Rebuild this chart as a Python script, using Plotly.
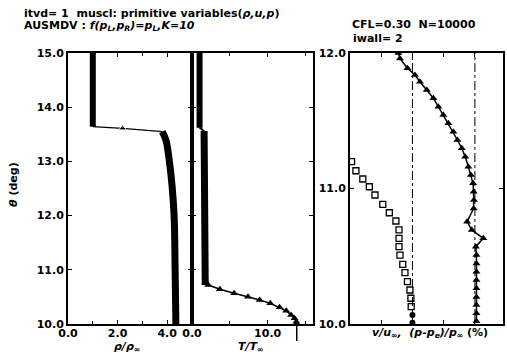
import plotly.graph_objects as go

# ---------------- data ----------------
# panel 1 : density rho/rho_inf vs theta (deg)
theta_rho_up = [15.0, 13.64]
rho_up = [1.0, 1.0]
theta_rho_shock = [13.64, 13.61, 13.55]
rho_shock = [1.0, 2.2, 3.8]
theta_rho_dn = [13.55, 13.39, 13.03, 12.53, 11.98, 11.0, 10.0]
rho_dn = [3.8, 3.95, 4.08, 4.2, 4.28, 4.32, 4.35]

# panel 2 : temperature T/T_inf vs theta (deg)
theta_T_up = [15.0, 13.62]
T_up = [1.0, 1.0]
theta_T_step = [13.62, 13.56]
T_step = [1.0, 1.6]
theta_T_mid = [13.56, 12.5, 11.5, 10.72]
T_mid = [1.6, 1.65, 1.7, 1.75]
theta_T_bl = [10.72, 10.64, 10.566, 10.504, 10.443, 10.381, 10.307, 10.245,
              10.166, 10.105, 10.04, 10.0]
T_bl = [2.15, 3.68, 5.57, 7.41, 8.95, 10.35, 11.58, 12.46, 13.1, 13.55, 13.8, 13.85]
T_wall = 13.85

# panel 3 : v/u_inf (squares) and pressure error (triangles), arbitrary x units
theta_v = [11.198, 11.131, 11.07, 11.013, 10.952, 10.883, 10.821, 10.760, 10.694,
           10.632, 10.571, 10.509, 10.44, 10.379, 10.313, 10.251, 10.19, 10.128]
v_vals = [0.05, 0.19, 0.41, 0.62, 0.80, 1.05, 1.26, 1.47, 1.57,
          1.57, 1.57, 1.60, 1.69, 1.76, 1.84, 1.92, 1.95, 1.96]
theta_v_wall = [10.067, 10.01]
v_wall = [2.0, 2.0]
theta_p = [12.0, 11.96, 11.887, 11.838, 11.788, 11.727, 11.666, 11.604, 11.542,
           11.481, 11.419, 11.358, 11.297, 11.235, 11.161, 11.1, 11.038, 10.976,
           10.915, 10.853, 10.755, 10.694, 10.632, 10.571, 10.509, 10.447, 10.386,
           10.324, 10.263, 10.2, 10.14, 10.08, 10.02]
p_vals = [1.55, 1.60, 1.84, 2.08, 2.24, 2.46, 2.67, 2.83, 2.99,
          3.15, 3.31, 3.44, 3.58, 3.69, 3.79, 3.87, 3.94, 3.96,
          3.97, 3.96, 3.75, 3.90, 4.27, 4.03, 4.05, 4.05, 4.05,
          4.05, 4.05, 4.05, 4.05, 4.05, 4.05]
ref_x = [2.0, 4.0]

x1_ticks = [0.0, 2.0, 4.0]
x2_ticks = [0.0, 10.0]
y1_ticks = [10.0, 11.0, 12.0, 13.0, 14.0, 15.0]
y3_ticks = [10.0, 11.0, 12.0]

# ---------------- figure ----------------
W, H = 507, 354
FONT = "DejaVu Sans"
BLK = "black"

def px_x(p):
    return p / W

def px_y(p):
    return 1 - p / H

fig = go.Figure()

# panel 1
fig.add_trace(go.Scatter(x=rho_up, y=theta_rho_up, mode="lines",
                         line=dict(color=BLK, width=6), xaxis="x", yaxis="y"))
fig.add_trace(go.Scatter(x=rho_shock, y=theta_rho_shock, mode="lines+markers",
                         line=dict(color=BLK, width=1.3),
                         marker=dict(symbol="triangle-up", size=[0, 7, 0], color=BLK),
                         xaxis="x", yaxis="y"))
fig.add_trace(go.Scatter(x=rho_dn, y=theta_rho_dn, mode="lines",
                         line=dict(color=BLK, width=7, shape="spline"), xaxis="x", yaxis="y"))

# panel 2
fig.add_trace(go.Scatter(x=T_up, y=theta_T_up, mode="lines",
                         line=dict(color=BLK, width=6), xaxis="x2", yaxis="y2"))
fig.add_trace(go.Scatter(x=T_step, y=theta_T_step, mode="lines",
                         line=dict(color=BLK, width=2), xaxis="x2", yaxis="y2"))
fig.add_trace(go.Scatter(x=T_mid, y=theta_T_mid, mode="lines",
                         line=dict(color=BLK, width=7), xaxis="x2", yaxis="y2"))
fig.add_trace(go.Scatter(x=T_bl, y=theta_T_bl, mode="lines+markers",
                         line=dict(color=BLK, width=1.5),
                         marker=dict(symbol="triangle-up", size=7, color=BLK),
                         xaxis="x2", yaxis="y2"))

# panel 3
for rx in ref_x:
    fig.add_trace(go.Scatter(x=[rx, rx], y=[10, 12], mode="lines",
                             line=dict(color=BLK, width=1, dash="dashdot"),
                             xaxis="x3", yaxis="y3"))
fig.add_trace(go.Scatter(x=v_vals, y=theta_v, mode="markers",
                         marker=dict(symbol="square-open", size=6, color=BLK,
                                     line=dict(width=1.3, color=BLK)),
                         xaxis="x3", yaxis="y3"))
fig.add_trace(go.Scatter(x=v_wall, y=theta_v_wall, mode="markers",
                         marker=dict(symbol="circle", size=6, color=BLK),
                         xaxis="x3", yaxis="y3"))
fig.add_trace(go.Scatter(x=p_vals, y=theta_p, mode="lines+markers",
                         line=dict(color=BLK, width=1.5),
                         marker=dict(symbol="triangle-up", size=7, color=BLK),
                         xaxis="x3", yaxis="y3"))

tickfont = dict(family=FONT, size=11, color=BLK, weight="bold")
common = dict(showgrid=False, zeroline=False, showline=True, linecolor=BLK,
              linewidth=2, mirror="ticks", ticks="inside", ticklen=4,
              tickcolor=BLK, tickwidth=1, tickfont=tickfont)

ydom = [px_y(324), px_y(53)]

fig.update_layout(
    width=W, height=H,
    margin=dict(l=0, r=0, t=0, b=0, autoexpand=False),
    paper_bgcolor="white", plot_bgcolor="white",
    showlegend=False,
    xaxis=dict(domain=[px_x(68), px_x(192)], range=[0, 5], anchor="y",
               tickvals=x1_ticks, tickformat=".1f", ticklabelstandoff=-2,
               minor=dict(dtick=1, tick0=0, ticks="inside", ticklen=3, tickcolor=BLK),
               **common),
    yaxis=dict(domain=ydom, range=[10, 15], anchor="x",
               tickvals=y1_ticks, tickformat=".1f", **common),
    xaxis2=dict(domain=[px_x(192), px_x(313)], range=[0, 16], anchor="y2",
                tickvals=x2_ticks, tickformat=".1f", ticklabelstandoff=-2,
                minor=dict(dtick=5, tick0=0, ticks="inside", ticklen=3, tickcolor=BLK),
                **common),
    yaxis2=dict(domain=ydom, range=[10, 15], anchor="x2", showticklabels=False,
                **common),
    xaxis3=dict(domain=[px_x(350), px_x(503)], range=[0, 4.9], anchor="y3",
                dtick=1, tick0=0, showticklabels=False, **common),
    yaxis3=dict(domain=ydom, range=[10, 12], anchor="x3",
                tickvals=y3_ticks, tickformat=".1f", **common),
)

# wall temperature marker below panel 2
fig.add_shape(type="line", xref="x2", yref="paper", x0=T_wall, x1=T_wall,
              y0=px_y(324), y1=px_y(341), line=dict(color=BLK, width=1.5))

NB = "\u00a0"
txt = dict(family=FONT, size=11, color=BLK, weight="bold")
annots = [
    dict(text=f"itvd={NB}1{NB}{NB}muscl:{NB}primitive{NB}variables(<i>ρ,u,p</i>)",
         x=px_x(22), y=px_y(13), xanchor="left", yanchor="middle"),
    dict(text=f"AUSMDV{NB}:{NB}<i>f(p<sub>L</sub>,p<sub>R</sub>)=p<sub>L</sub>,K=10</i>",
         x=px_x(22), y=px_y(26), xanchor="left", yanchor="middle"),
    dict(text=f"CFL=0.30{NB}{NB}N=10000",
         x=px_x(350), y=px_y(25), xanchor="left", yanchor="middle"),
    dict(text=f"iwall={NB}2",
         x=px_x(351), y=px_y(38), xanchor="left", yanchor="middle"),
    dict(text="<i>θ</i> (deg)", x=px_x(13), y=px_y(185), textangle=-90,
         xanchor="center", yanchor="middle"),
    dict(text="<i>ρ/ρ<sub>∞</sub></i>", x=px_x(127), y=px_y(347),
         xanchor="center", yanchor="middle"),
    dict(text="<i>T/T<sub>∞</sub></i>", x=px_x(250), y=px_y(347),
         xanchor="center", yanchor="middle"),
    dict(text=f"<i>v/u<sub>∞</sub>,{NB}{NB}(p-p<sub>e</sub>)/p<sub>∞</sub></i>{NB}(%)",
         x=px_x(430), y=px_y(333), xanchor="center", yanchor="middle"),
]
for a in annots:
    fig.add_annotation(xref="paper", yref="paper", showarrow=False, font=txt, **a)

fig.write_html("out.html")
